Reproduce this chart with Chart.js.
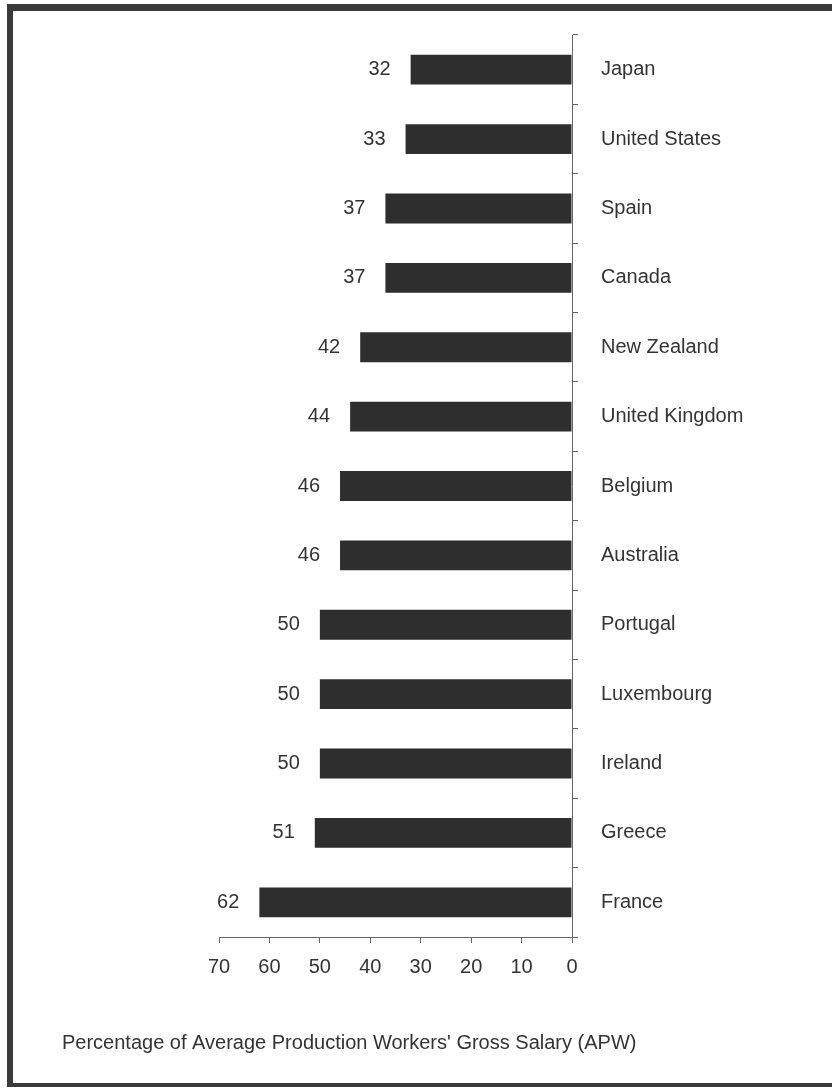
<!DOCTYPE html>
<html>
<head>
<meta charset="utf-8">
<script src="https://cdn.jsdelivr.net/npm/chart.js@4"></script>
<style>
  body { margin: 0; background: #fff; }
  #wrap { position: relative; width: 832px; height: 1091px; overflow: hidden; }
  #frame {
    position: absolute; left: 7px; top: 4px; width: 900px; height: 1083px;
    border-left: 6px solid #3a3a3a; border-top: 7px solid #3a3a3a; border-bottom: 4px solid #3a3a3a;
    box-sizing: border-box;
  }
  canvas { position: absolute; left: 0; top: 0; }
</style>
</head>
<body>
<div id="wrap">
  <div id="frame"></div>
  <canvas id="myChart" width="832" height="1091"></canvas>
</div>
<script>
var countries = ['Japan', 'United States', 'Spain', 'Canada', 'New Zealand', 'United Kingdom',
  'Belgium', 'Australia', 'Portugal', 'Luxembourg', 'Ireland', 'Greece', 'France'];
var values = [32, 33, 37, 37, 42, 44, 46, 46, 50, 50, 50, 51, 62];
var axisTitle = "Percentage of Average Production Workers' Gross Salary (APW)";

var FONT = '"Liberation Sans", Arial, sans-serif';

// numbers to the left of each bar
var valueLabels = {
  id: 'valueLabels',
  afterDatasetsDraw: function(chart) {
    var ctx = chart.ctx;
    var meta = chart.getDatasetMeta(0);
    ctx.save();
    ctx.font = '20px ' + FONT;
    ctx.fillStyle = '#333';
    ctx.textAlign = 'right';
    ctx.textBaseline = 'middle';
    meta.data.forEach(function(bar, i) {
      ctx.fillText(values[i], bar.x - 20, bar.y);
    });
    ctx.restore();
  }
};

// axis title sits far left, under the whole chart
var bottomTitle = {
  id: 'bottomTitle',
  afterDraw: function(chart) {
    var ctx = chart.ctx;
    ctx.save();
    ctx.font = '20px ' + FONT;
    ctx.fillStyle = '#333';
    ctx.textAlign = 'left';
    ctx.textBaseline = 'alphabetic';
    ctx.fillText(axisTitle, 62, 1049);
    ctx.restore();
  }
};

var ctx = document.getElementById('myChart').getContext('2d');
var myChart = new Chart(ctx, {
  type: 'bar',
  data: {
    labels: countries,
    datasets: [{
      data: values,
      backgroundColor: '#2e2e2e',
      borderWidth: 0,
      barPercentage: 0.43,
      categoryPercentage: 1.0
    }]
  },
  options: {
    indexAxis: 'y',
    responsive: false,
    animation: false,
    events: [],
    layout: { padding: { left: 219, top: 33, right: 0, bottom: 0 } },
    plugins: {
      legend: { display: false },
      tooltip: { enabled: false }
    },
    scales: {
      x: {
        position: 'bottom',
        reverse: true,
        min: 0,
        max: 70,
        ticks: { stepSize: 10, color: '#333', font: { family: FONT, size: 20 }, padding: 12, maxRotation: 0 },
        grid: { drawOnChartArea: false, drawTicks: true, tickLength: 6, color: '#666' },
        border: { display: true, color: '#666', width: 1 },
        afterFit: function(scale) { scale.height = 154; }
      },
      y: {
        position: 'right',
        ticks: { color: '#333', font: { family: FONT, size: 20 }, padding: 23 },
        grid: { drawOnChartArea: false, drawTicks: true, tickLength: 6, color: '#666', offset: true },
        border: { display: true, color: '#666', width: 1 },
        afterFit: function(scale) { scale.width = 260; }
      }
    }
  },
  plugins: [valueLabels, bottomTitle]
});
</script>
</body>
</html>
